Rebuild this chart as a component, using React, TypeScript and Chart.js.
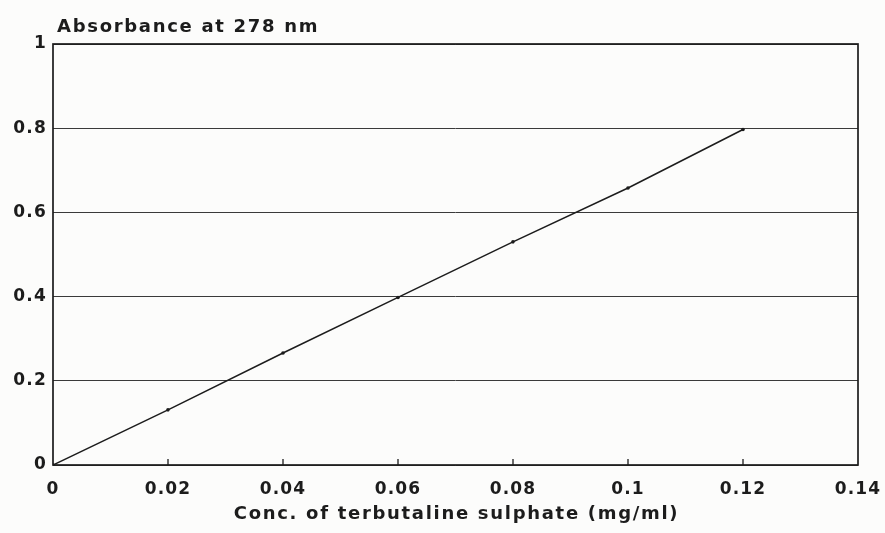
import React, { useEffect, useRef } from "react";
import { Chart, registerables } from "chart.js";

Chart.register(...registerables);

const concentrations = [0, 0.02, 0.04, 0.06, 0.08, 0.1, 0.12];
const absorbance = [0, 0.131, 0.266, 0.398, 0.53, 0.658, 0.797];
const yTitle = "Absorbance at 278 nm";
const xTitle = "Conc. of terbutaline sulphate (mg/ml)";
const xMin = 0, xMax = 0.14, xStep = 0.02;
const yMin = 0, yMax = 1, yStep = 0.2;

const FONT = '"DejaVu Sans", "Liberation Sans", Arial, sans-serif';
const INK = "#1c1c1c";

const decor = {
  id: "decor",
  beforeDraw(chart: any) {
    const ctx = chart.ctx;
    ctx.save();
    ctx.fillStyle = "#fcfcfb";
    ctx.fillRect(0, 0, chart.width, chart.height);
    ctx.restore();
    (ctx as any).letterSpacing = "1.2px";
  },
  afterDraw(chart: any) {
    const ctx = chart.ctx;
    const { left, right, top, bottom } = chart.chartArea;
    const xs = chart.scales.x;
    ctx.save();
    // frame
    ctx.strokeStyle = INK;
    ctx.lineWidth = 1.7;
    ctx.strokeRect(left, top, right - left, bottom - top);
    // inward x tick marks
    ctx.lineWidth = 1.3;
    xs.ticks.forEach((t: any) => {
      const px = xs.getPixelForValue(t.value);
      if (px <= left + 1 || px >= right - 1) return;
      ctx.beginPath();
      ctx.moveTo(px, bottom);
      ctx.lineTo(px, bottom - 6);
      ctx.stroke();
    });
    // titles
    ctx.fillStyle = INK;
    (ctx as any).letterSpacing = "1.7px";
    ctx.font = `bold 18px ${FONT}`;
    ctx.textBaseline = "alphabetic";
    ctx.textAlign = "left";
    ctx.fillText(yTitle, left + 4, top - 12);
    ctx.textAlign = "center";
    ctx.fillText(xTitle, (left + right) / 2 + 1, bottom + 54);
    ctx.restore();
  },
};

export default function App() {
  const ref = useRef<HTMLCanvasElement>(null);
  useEffect(() => {
    if (!ref.current) return;
    const chart = new Chart(ref.current, {
      type: "scatter",
      data: {
        datasets: [
          {
            data: concentrations.map((x, i) => ({ x, y: absorbance[i] })),
            showLine: true,
            borderColor: INK,
            backgroundColor: INK,
            borderWidth: 1.5,
            pointRadius: 1.8,
            pointBorderWidth: 0,
            tension: 0,
          },
        ],
      },
      options: {
        animation: false,
        responsive: true,
        maintainAspectRatio: false,
        layout: { padding: { top: 44, right: 27, left: 0, bottom: 0 } },
        plugins: { legend: { display: false }, tooltip: { enabled: false } },
        scales: {
          x: {
            type: "linear",
            min: xMin,
            max: xMax,
            afterFit(s: any) {
              s.height = 68;
              s.paddingLeft = 0;
              s.paddingRight = 0;
            },
            border: { display: false },
            grid: { display: false, drawTicks: false },
            ticks: {
              stepSize: xStep,
              padding: 14,
              color: INK,
              font: { family: FONT, size: 17, weight: "bold" },
              maxRotation: 0,
              autoSkip: false,
              callback: (v: any) => String(+Number(v).toFixed(2)),
            },
          },
          y: {
            type: "linear",
            min: yMin,
            max: yMax,
            afterFit(s: any) {
              s.width = 53;
              s.paddingTop = 0;
              s.paddingBottom = 0;
            },
            border: { display: false },
            grid: { color: "#3a3a3a", lineWidth: 1, drawTicks: false },
            ticks: {
              stepSize: yStep,
              padding: 6,
              color: INK,
              font: { family: FONT, size: 17, weight: "bold" },
              callback: (v: any) => String(+Number(v).toFixed(1)),
            },
          },
        },
      },
      plugins: [decor],
    });
    return () => chart.destroy();
  }, []);
  return (
    <div style={{ position: "fixed", left: 0, top: 0, width: 885, height: 533 }}>
      <canvas ref={ref} />
    </div>
  );
}
